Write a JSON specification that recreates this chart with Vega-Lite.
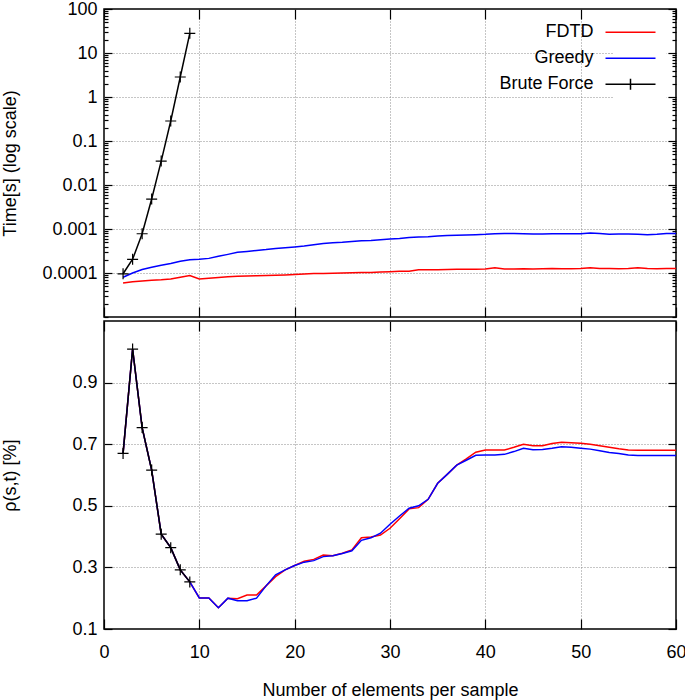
{
  "$schema": "https://vega.github.io/schema/vega-lite/v6.json",
  "padding": {"left": 0, "top": -1, "right": 0, "bottom": 0},
  "spacing": 0,
  "config": {
    "font": "Liberation Sans",
    "view": {"stroke": "#000000", "strokeWidth": 1.5},
    "axis": {
      "labelFont": "Liberation Sans", "labelFontSize": 18, "labelColor": "#000000",
      "titleFont": "Liberation Sans", "titleFontSize": 18, "titleFontWeight": "normal", "titleColor": "#000000",
      "domain": false, "tickColor": "#000000", "tickWidth": 1.2, "labelFlush": false,
      "gridColor": "#8c8c8c", "gridDash": [1, 2], "gridWidth": 1
    }
  },
  "datasets": {
    "time": [
      {"n": 2, "FDTD": 5.9e-5, "Greedy": 8.0e-5, "Brute Force": 9.6e-5},
      {"n": 3, "FDTD": 6.3e-5, "Greedy": 1.0e-4, "Brute Force": 2.05e-4},
      {"n": 4, "FDTD": 6.6e-5, "Greedy": 1.2e-4, "Brute Force": 7.8e-4},
      {"n": 5, "FDTD": 6.8e-5, "Greedy": 1.35e-4, "Brute Force": 0.0048},
      {"n": 6, "FDTD": 7.0e-5, "Greedy": 1.5e-4, "Brute Force": 0.035},
      {"n": 7, "FDTD": 7.3e-5, "Greedy": 1.64e-4, "Brute Force": 0.285},
      {"n": 8, "FDTD": 8.0e-5, "Greedy": 1.85e-4, "Brute Force": 2.85},
      {"n": 9, "FDTD": 8.8e-5, "Greedy": 2.0e-4, "Brute Force": 28},
      {"n": 10, "FDTD": 7.3e-5, "Greedy": 2.05e-4},
      {"n": 11, "FDTD": 7.6e-5, "Greedy": 2.15e-4},
      {"n": 12, "FDTD": 7.9e-5, "Greedy": 2.4e-4},
      {"n": 13, "FDTD": 8.2e-5, "Greedy": 2.65e-4},
      {"n": 14, "FDTD": 8.4e-5, "Greedy": 2.95e-4},
      {"n": 15, "FDTD": 8.6e-5, "Greedy": 3.1e-4},
      {"n": 16, "FDTD": 8.7e-5, "Greedy": 3.25e-4},
      {"n": 17, "FDTD": 8.8e-5, "Greedy": 3.4e-4},
      {"n": 18, "FDTD": 8.9e-5, "Greedy": 3.6e-4},
      {"n": 19, "FDTD": 9.0e-5, "Greedy": 3.75e-4},
      {"n": 20, "FDTD": 9.2e-5, "Greedy": 3.9e-4},
      {"n": 21, "FDTD": 9.5e-5, "Greedy": 4.1e-4},
      {"n": 22, "FDTD": 9.7e-5, "Greedy": 4.4e-4},
      {"n": 23, "FDTD": 9.8e-5, "Greedy": 4.7e-4},
      {"n": 24, "FDTD": 9.9e-5, "Greedy": 4.9e-4},
      {"n": 25, "FDTD": 1.0e-4, "Greedy": 5.0e-4},
      {"n": 26, "FDTD": 1.01e-4, "Greedy": 5.2e-4},
      {"n": 27, "FDTD": 1.02e-4, "Greedy": 5.4e-4},
      {"n": 28, "FDTD": 1.03e-4, "Greedy": 5.5e-4},
      {"n": 29, "FDTD": 1.05e-4, "Greedy": 5.7e-4},
      {"n": 30, "FDTD": 1.07e-4, "Greedy": 5.9e-4},
      {"n": 31, "FDTD": 1.09e-4, "Greedy": 6.1e-4},
      {"n": 32, "FDTD": 1.1e-4, "Greedy": 6.4e-4},
      {"n": 33, "FDTD": 1.19e-4, "Greedy": 6.6e-4},
      {"n": 34, "FDTD": 1.18e-4, "Greedy": 6.7e-4},
      {"n": 35, "FDTD": 1.19e-4, "Greedy": 6.9e-4},
      {"n": 36, "FDTD": 1.2e-4, "Greedy": 7.1e-4},
      {"n": 37, "FDTD": 1.21e-4, "Greedy": 7.2e-4},
      {"n": 38, "FDTD": 1.22e-4, "Greedy": 7.3e-4},
      {"n": 39, "FDTD": 1.22e-4, "Greedy": 7.4e-4},
      {"n": 40, "FDTD": 1.23e-4, "Greedy": 7.55e-4},
      {"n": 41, "FDTD": 1.32e-4, "Greedy": 7.8e-4},
      {"n": 42, "FDTD": 1.24e-4, "Greedy": 7.95e-4},
      {"n": 43, "FDTD": 1.24e-4, "Greedy": 7.9e-4},
      {"n": 44, "FDTD": 1.25e-4, "Greedy": 7.8e-4},
      {"n": 45, "FDTD": 1.24e-4, "Greedy": 7.7e-4},
      {"n": 46, "FDTD": 1.25e-4, "Greedy": 7.7e-4},
      {"n": 47, "FDTD": 1.26e-4, "Greedy": 7.75e-4},
      {"n": 48, "FDTD": 1.25e-4, "Greedy": 7.8e-4},
      {"n": 49, "FDTD": 1.25e-4, "Greedy": 7.8e-4},
      {"n": 50, "FDTD": 1.26e-4, "Greedy": 7.8e-4},
      {"n": 51, "FDTD": 1.32e-4, "Greedy": 8.1e-4},
      {"n": 52, "FDTD": 1.27e-4, "Greedy": 7.9e-4},
      {"n": 53, "FDTD": 1.26e-4, "Greedy": 7.6e-4},
      {"n": 54, "FDTD": 1.25e-4, "Greedy": 7.7e-4},
      {"n": 55, "FDTD": 1.27e-4, "Greedy": 7.7e-4},
      {"n": 56, "FDTD": 1.32e-4, "Greedy": 7.6e-4},
      {"n": 57, "FDTD": 1.26e-4, "Greedy": 7.4e-4},
      {"n": 58, "FDTD": 1.25e-4, "Greedy": 7.6e-4},
      {"n": 59, "FDTD": 1.26e-4, "Greedy": 7.9e-4},
      {"n": 60, "FDTD": 1.26e-4, "Greedy": 7.9e-4}
    ],
    "rho": [
      {"n": 2, "FDTD": 0.670, "Greedy": 0.670, "Brute Force": 0.670},
      {"n": 3, "FDTD": 1.009, "Greedy": 1.009, "Brute Force": 1.009},
      {"n": 4, "FDTD": 0.754, "Greedy": 0.754, "Brute Force": 0.754},
      {"n": 5, "FDTD": 0.616, "Greedy": 0.616, "Brute Force": 0.616},
      {"n": 6, "FDTD": 0.408, "Greedy": 0.408, "Brute Force": 0.408},
      {"n": 7, "FDTD": 0.364, "Greedy": 0.364, "Brute Force": 0.364},
      {"n": 8, "FDTD": 0.292, "Greedy": 0.292, "Brute Force": 0.292},
      {"n": 9, "FDTD": 0.253, "Greedy": 0.253, "Brute Force": 0.253},
      {"n": 10, "FDTD": 0.201, "Greedy": 0.201},
      {"n": 11, "FDTD": 0.201, "Greedy": 0.201},
      {"n": 12, "FDTD": 0.169, "Greedy": 0.169},
      {"n": 13, "FDTD": 0.200, "Greedy": 0.200},
      {"n": 14, "FDTD": 0.198, "Greedy": 0.192},
      {"n": 15, "FDTD": 0.210, "Greedy": 0.192},
      {"n": 16, "FDTD": 0.210, "Greedy": 0.200},
      {"n": 17, "FDTD": 0.240, "Greedy": 0.240},
      {"n": 18, "FDTD": 0.270, "Greedy": 0.276},
      {"n": 19, "FDTD": 0.292, "Greedy": 0.292},
      {"n": 20, "FDTD": 0.306, "Greedy": 0.306},
      {"n": 21, "FDTD": 0.320, "Greedy": 0.317},
      {"n": 22, "FDTD": 0.326, "Greedy": 0.322},
      {"n": 23, "FDTD": 0.340, "Greedy": 0.335},
      {"n": 24, "FDTD": 0.338, "Greedy": 0.338},
      {"n": 25, "FDTD": 0.346, "Greedy": 0.345},
      {"n": 26, "FDTD": 0.357, "Greedy": 0.354},
      {"n": 27, "FDTD": 0.396, "Greedy": 0.388},
      {"n": 28, "FDTD": 0.399, "Greedy": 0.396},
      {"n": 29, "FDTD": 0.405, "Greedy": 0.411},
      {"n": 30, "FDTD": 0.427, "Greedy": 0.440},
      {"n": 31, "FDTD": 0.458, "Greedy": 0.467},
      {"n": 32, "FDTD": 0.490, "Greedy": 0.492},
      {"n": 33, "FDTD": 0.494, "Greedy": 0.500},
      {"n": 34, "FDTD": 0.521, "Greedy": 0.521},
      {"n": 35, "FDTD": 0.573, "Greedy": 0.573},
      {"n": 36, "FDTD": 0.602, "Greedy": 0.602},
      {"n": 37, "FDTD": 0.632, "Greedy": 0.632},
      {"n": 38, "FDTD": 0.652, "Greedy": 0.648},
      {"n": 39, "FDTD": 0.674, "Greedy": 0.664},
      {"n": 40, "FDTD": 0.681, "Greedy": 0.665},
      {"n": 41, "FDTD": 0.681, "Greedy": 0.665},
      {"n": 42, "FDTD": 0.681, "Greedy": 0.667},
      {"n": 43, "FDTD": 0.690, "Greedy": 0.676},
      {"n": 44, "FDTD": 0.700, "Greedy": 0.687},
      {"n": 45, "FDTD": 0.695, "Greedy": 0.682},
      {"n": 46, "FDTD": 0.695, "Greedy": 0.683},
      {"n": 47, "FDTD": 0.702, "Greedy": 0.687},
      {"n": 48, "FDTD": 0.706, "Greedy": 0.692},
      {"n": 49, "FDTD": 0.705, "Greedy": 0.690},
      {"n": 50, "FDTD": 0.703, "Greedy": 0.687},
      {"n": 51, "FDTD": 0.700, "Greedy": 0.684},
      {"n": 52, "FDTD": 0.695, "Greedy": 0.679},
      {"n": 53, "FDTD": 0.690, "Greedy": 0.673},
      {"n": 54, "FDTD": 0.685, "Greedy": 0.670},
      {"n": 55, "FDTD": 0.681, "Greedy": 0.665},
      {"n": 56, "FDTD": 0.680, "Greedy": 0.663},
      {"n": 57, "FDTD": 0.680, "Greedy": 0.663},
      {"n": 58, "FDTD": 0.680, "Greedy": 0.663},
      {"n": 59, "FDTD": 0.680, "Greedy": 0.663},
      {"n": 60, "FDTD": 0.680, "Greedy": 0.663}
    ]
  },
  "resolve": {"scale": {"color": "independent"}},
  "vconcat": [
    {
      "width": 572,
      "height": 308,
      "data": {"name": "time"},
      "transform": [
        {"fold": ["FDTD", "Greedy", "Brute Force"], "as": ["series", "t"]},
        {"filter": "isValid(datum.t) && datum.t > 0"}
      ],
      "layer": [
        {
          "mark": {"type": "line", "strokeWidth": 1.5},
          "encoding": {
            "x": {
              "field": "n", "type": "quantitative",
              "scale": {"domain": [0, 60], "nice": false},
              "axis": {
                "orient": "bottom", "values": [0, 10, 20, 30, 40, 50, 60], "labels": false, "title": null,
                "tickSize": -10,
                "gridOpacity": {"condition": {"test": "datum.value > 0 && datum.value < 60", "value": 1}, "value": 0}
              }
            },
            "y": {
              "field": "t", "type": "quantitative",
              "scale": {"type": "log", "domain": [0.00001, 100], "nice": false},
              "axis": {
                "orient": "left",
                "values": [0.00001,0.00002,0.00003,0.00004,0.00005,0.00006,0.00007,0.00008,0.00009,0.0001,0.0002,0.0003,0.0004,0.0005,0.0006,0.0007,0.0008,0.0009,0.001,0.002,0.003,0.004,0.005,0.006,0.007,0.008,0.009,0.01,0.02,0.03,0.04,0.05,0.06,0.07,0.08,0.09,0.1,0.2,0.3,0.4,0.5,0.6,0.7,0.8,0.9,1,2,3,4,5,6,7,8,9,10,20,30,40,50,60,70,80,90,100],
                "title": "Time[s] (log scale)",
                "tickSize": {"condition": {"test": "abs(log(datum.value)/LN10 - round(log(datum.value)/LN10)) < 0.000001 && datum.value > 0.00005", "value": -8}, "value": -4},
                "labelPadding": 15,
                "labelExpr": "abs(log(datum.value)/LN10 - round(log(datum.value)/LN10)) < 0.000001 && datum.value > 0.00005 ? format(datum.value, '~g') : ''",
                "gridOpacity": {"condition": {"test": "abs(log(datum.value)/LN10 - round(log(datum.value)/LN10)) < 0.000001 && datum.value > 0.00005 && datum.value < 50", "value": 1}, "value": 0},
                "minExtent": 62, "maxExtent": 62, "titlePadding": 22.5
              }
            },
            "color": {
              "field": "series", "type": "nominal",
              "scale": {"domain": ["FDTD", "Greedy", "Brute Force"], "range": ["#ff0000", "#0000ff", "#000000"]},
              "legend": {
                "orient": "none", "legendX": 509.5, "legendY": 6.3, "title": null,
                "symbolType": "M-5,0H5", "symbolSize": 100, "symbolStrokeWidth": 1.5,
                "symbolFillColor": "transparent",
                "labelFont": "Liberation Sans", "labelFontSize": 18, "labelColor": "#000000",
                "labelAlign": "right", "labelOffset": -46, "labelLimit": 300,
                "rowPadding": 8, "fillColor": "#ffffff", "padding": 8,
                "encode": {"symbols": {"update": {"shape": {"signal": "datum.value === 'Brute Force' ? 'M-5,0H5M0,-1.1V1.1' : 'M-5,0H5'"}}}}
              }
            }
          }
        },
        {
          "transform": [{"filter": "datum.series === 'Brute Force'"}],
          "mark": {"type": "point", "shape": "M-1,0H1M0,-1V1", "size": 121, "filled": false, "color": "#000000", "strokeWidth": 1.2, "opacity": 1},
          "encoding": {
            "x": {
              "field": "n", "type": "quantitative",
              "axis": {"orient": "top", "values": [0, 10, 20, 30, 40, 50, 60], "labels": false, "title": null, "tickSize": -10, "grid": false}
            },
            "y": {
              "field": "t", "type": "quantitative",
              "axis": {
                "orient": "right",
                "values": [0.00001,0.00002,0.00003,0.00004,0.00005,0.00006,0.00007,0.00008,0.00009,0.0001,0.0002,0.0003,0.0004,0.0005,0.0006,0.0007,0.0008,0.0009,0.001,0.002,0.003,0.004,0.005,0.006,0.007,0.008,0.009,0.01,0.02,0.03,0.04,0.05,0.06,0.07,0.08,0.09,0.1,0.2,0.3,0.4,0.5,0.6,0.7,0.8,0.9,1,2,3,4,5,6,7,8,9,10,20,30,40,50,60,70,80,90,100],
                "labels": false, "title": null, "grid": false,
                "tickSize": {"condition": {"test": "abs(log(datum.value)/LN10 - round(log(datum.value)/LN10)) < 0.000001 && datum.value > 0.00005", "value": -8}, "value": -4}
              }
            }
          }
        }
      ],
      "resolve": {"axis": {"x": "independent", "y": "independent"}}
    },
    {
      "width": 572,
      "height": 308,
      "data": {"name": "rho"},
      "transform": [
        {"fold": ["FDTD", "Greedy", "Brute Force"], "as": ["series", "r"]},
        {"filter": "isValid(datum.r)"}
      ],
      "layer": [
        {
          "mark": {"type": "line", "strokeWidth": 1.5},
          "encoding": {
            "x": {
              "field": "n", "type": "quantitative",
              "scale": {"domain": [0, 60], "nice": false},
              "axis": {
                "orient": "bottom", "values": [0, 10, 20, 30, 40, 50, 60],
                "title": "Number of elements per sample",
                "tickSize": -10, "labelPadding": 24.7, "titlePadding": 19.5,
                "gridOpacity": {"condition": {"test": "datum.value > 0 && datum.value < 60", "value": 1}, "value": 0}
              }
            },
            "y": {
              "field": "r", "type": "quantitative",
              "scale": {"domain": [0.1, 1.1], "nice": false, "zero": false},
              "axis": {
                "orient": "left", "values": [0.1, 0.3, 0.5, 0.7, 0.9], "format": ".1f",
                "title": "ρ(s,t) [%]",
                "tickSize": -8, "labelPadding": 15,
                "gridOpacity": {"condition": {"test": "datum.value > 0.15", "value": 1}, "value": 0},
                "minExtent": 62, "maxExtent": 62, "titlePadding": 22.5
              }
            },
            "color": {
              "field": "series", "type": "nominal",
              "scale": {"domain": ["FDTD", "Greedy", "Brute Force"], "range": ["#ff0000", "#0000ff", "#000000"]},
              "legend": null
            }
          }
        },
        {
          "transform": [{"filter": "datum.series === 'Brute Force'"}],
          "mark": {"type": "point", "shape": "M-1,0H1M0,-1V1", "size": 121, "filled": false, "color": "#000000", "strokeWidth": 1.2, "opacity": 1},
          "encoding": {
            "x": {
              "field": "n", "type": "quantitative",
              "axis": {"orient": "top", "values": [0, 10, 20, 30, 40, 50, 60], "labels": false, "title": null, "tickSize": -10, "grid": false}
            },
            "y": {
              "field": "r", "type": "quantitative",
              "axis": {"orient": "right", "values": [0.1, 0.3, 0.5, 0.7, 0.9], "labels": false, "title": null, "tickSize": -8, "grid": false}
            }
          }
        }
      ],
      "resolve": {"axis": {"x": "independent", "y": "independent"}}
    }
  ]
}
